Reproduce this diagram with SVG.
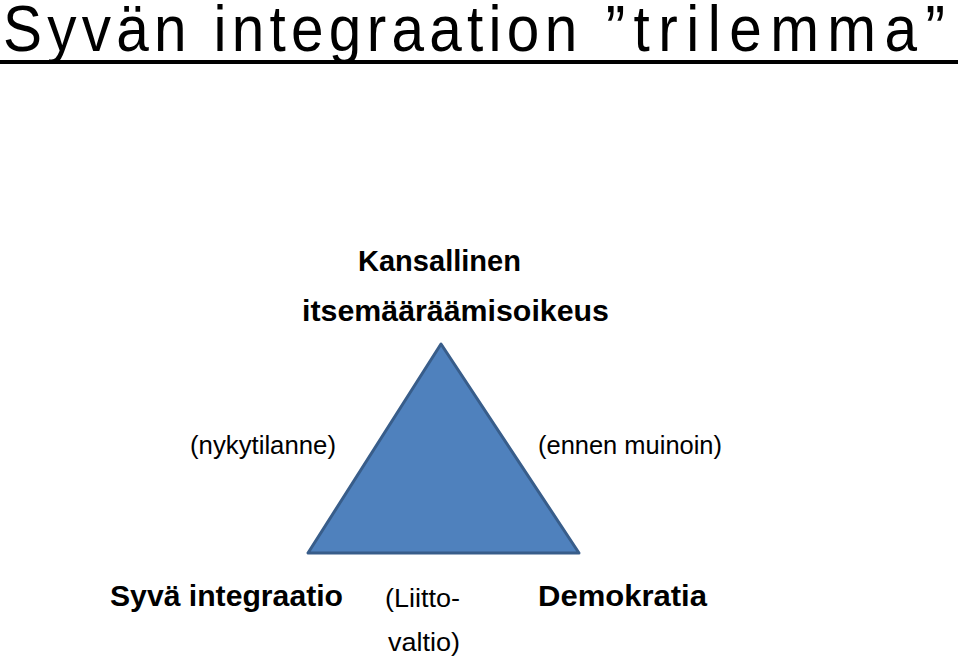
<svg xmlns="http://www.w3.org/2000/svg" width="960" height="665" viewBox="0 0 960 665">
<style>
text{font-family:"Liberation Sans",Arial,sans-serif;fill:#000}
.b{font-weight:bold;font-size:29px}
.r{font-size:26px}
.t{font-size:65px}
</style>
<rect width="960" height="665" fill="#fff"/>
<g id="title">
<g transform="scale(0.9,1)">
<text class="t" x="3.3" y="51" textLength="638" lengthAdjust="spacing">Syvän integraation</text>
<text class="t" x="673" y="51" textLength="377" lengthAdjust="spacing">”trilemma”</text>
</g>
<rect x="0" y="60" width="958" height="4" fill="#000"/>
</g>
<g id="triangle">
<polygon points="441,344 308,553 579,553" fill="#4F81BD" stroke="#385D8A" stroke-width="3" stroke-linejoin="round"/>
</g>
<g id="top">
<text class="b" x="358" y="271" textLength="163" lengthAdjust="spacingAndGlyphs">Kansallinen</text>
<text class="b" x="302" y="321" textLength="307" lengthAdjust="spacingAndGlyphs">itsemääräämisoikeus</text>
</g>
<g id="left">
<text class="r" x="190" y="454" textLength="146" lengthAdjust="spacingAndGlyphs">(nykytilanne)</text>
</g>
<g id="right">
<text class="r" x="538" y="454" textLength="184" lengthAdjust="spacingAndGlyphs">(ennen muinoin)</text>
</g>
<g id="bottom-left">
<text class="b" x="110" y="606" textLength="233" lengthAdjust="spacingAndGlyphs">Syvä integraatio</text>
</g>
<g id="bottom-mid">
<text class="r" x="385" y="607" textLength="75" lengthAdjust="spacingAndGlyphs">(Liitto-</text>
<text class="r" x="388" y="651" textLength="72" lengthAdjust="spacingAndGlyphs">valtio)</text>
</g>
<g id="bottom-right">
<text class="b" x="538" y="606" textLength="169" lengthAdjust="spacingAndGlyphs">Demokratia</text>
</g>
<g id="connectors"></g>
</svg>
